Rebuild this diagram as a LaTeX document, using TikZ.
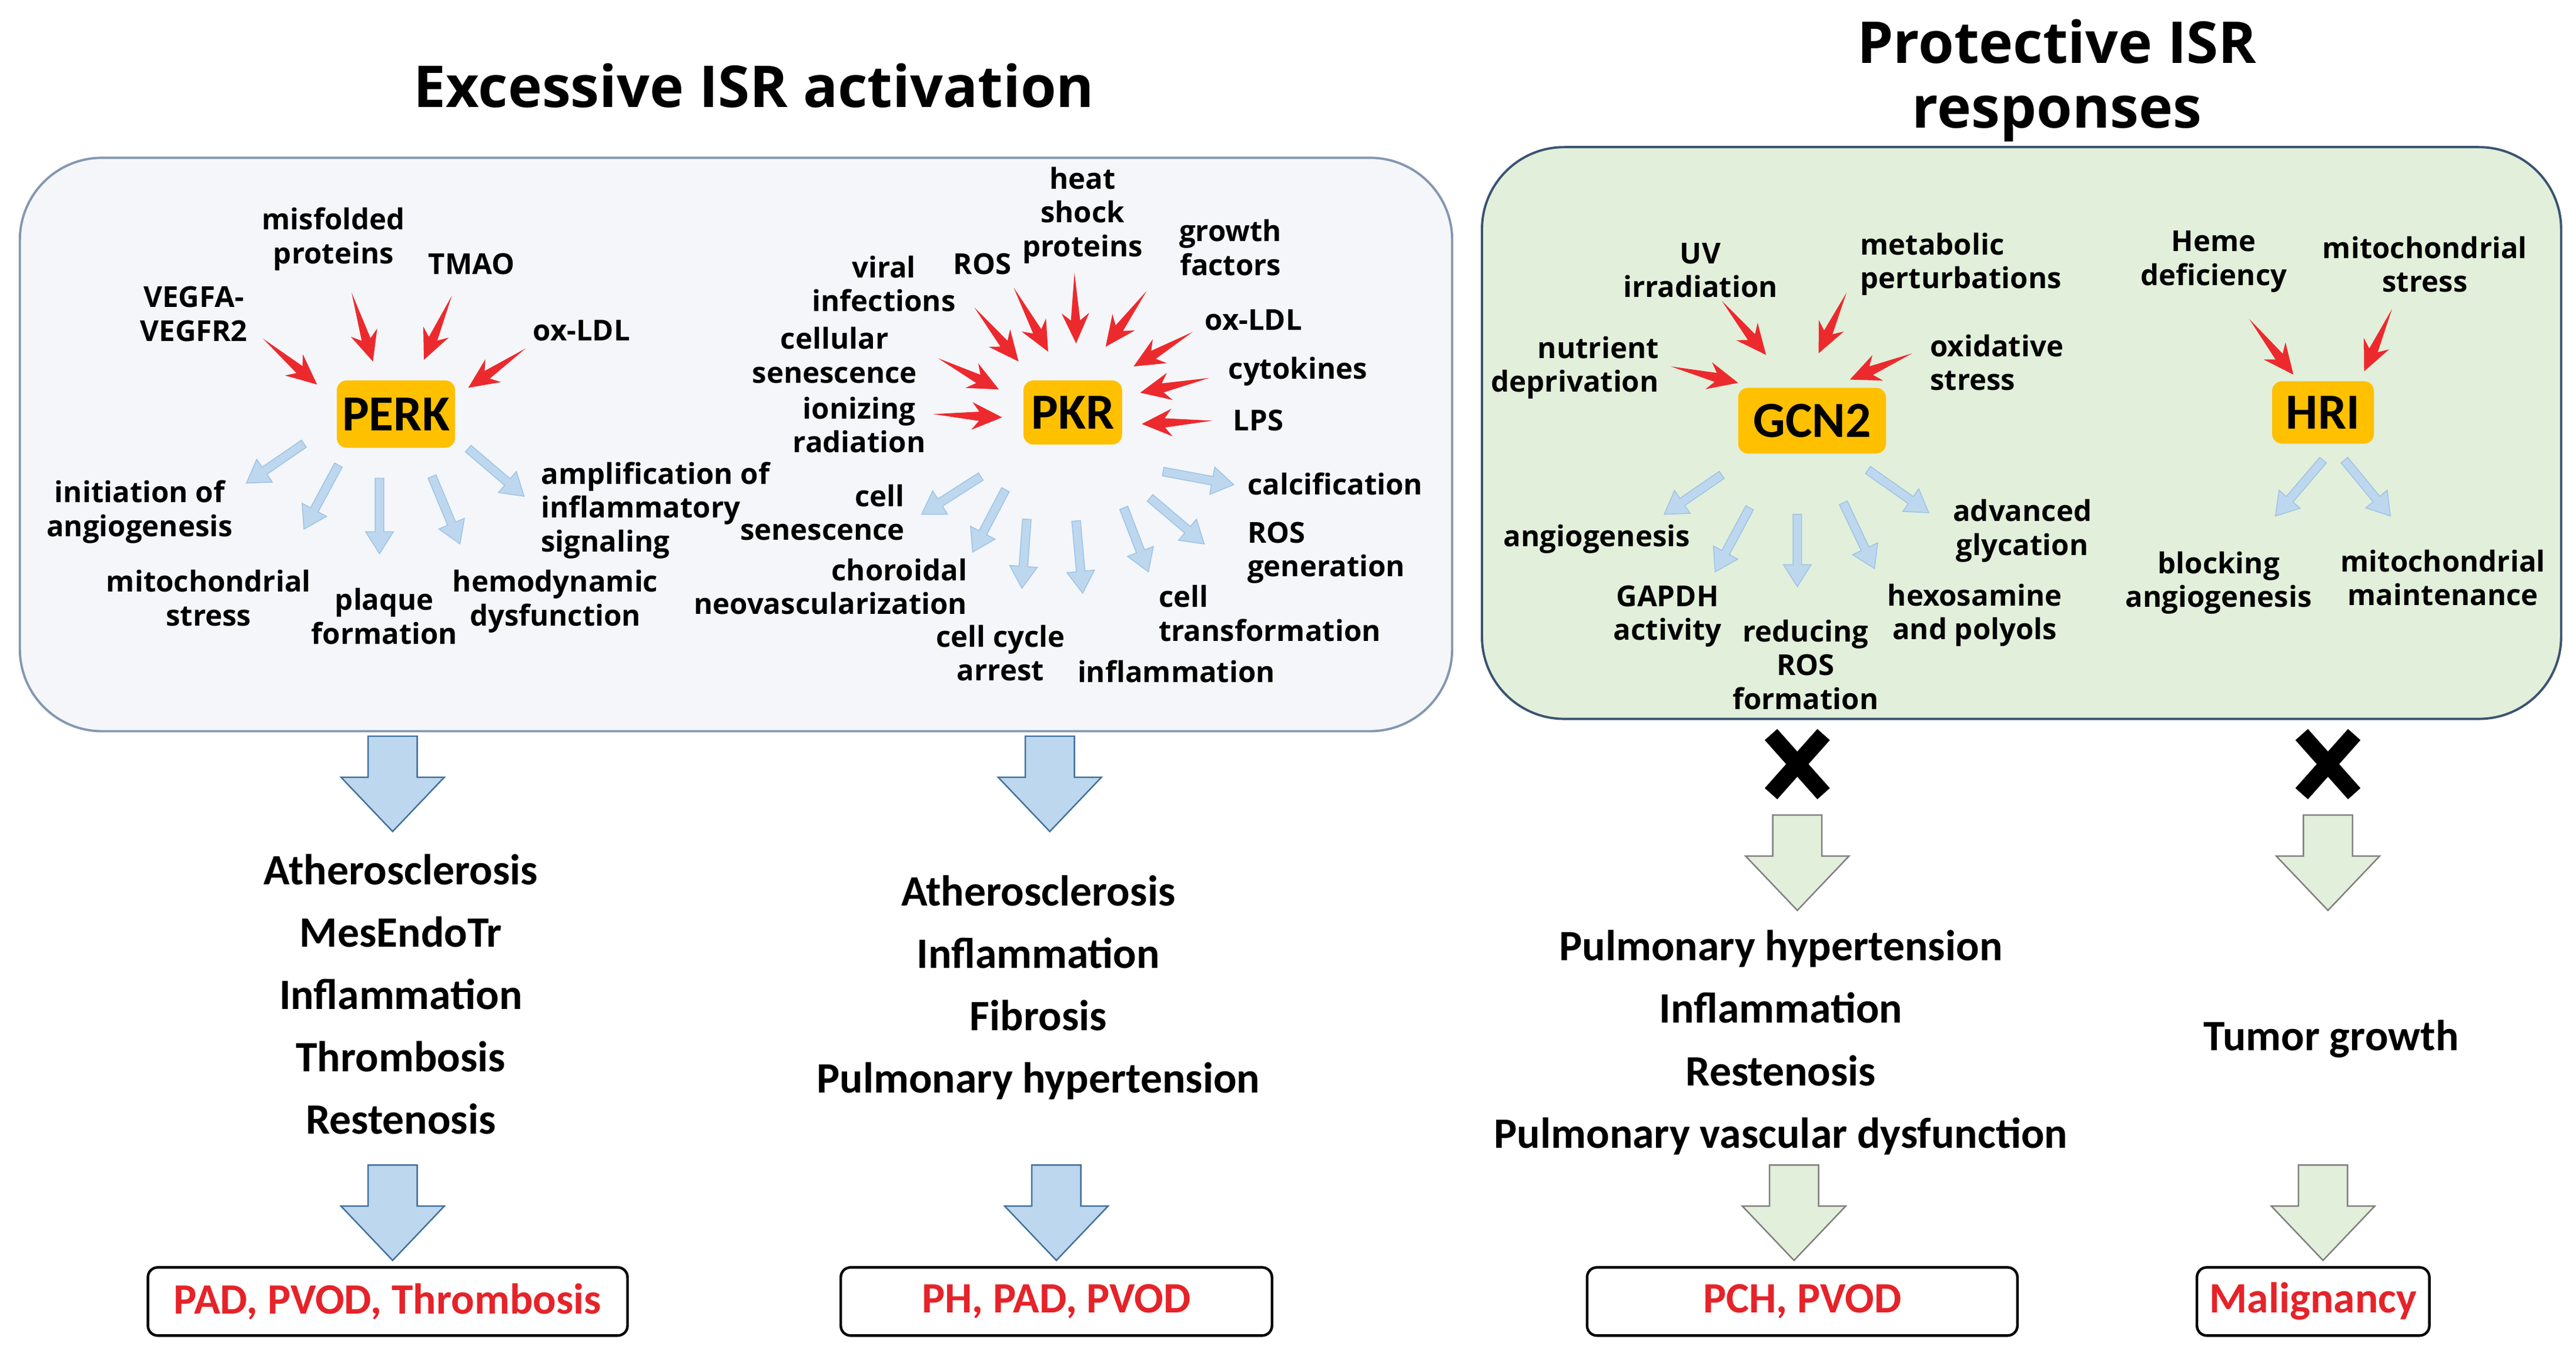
\documentclass[tikz,border=0pt]{standalone}
\usepackage{fontspec}
\setmainfont{Open Sans}
\newfontfamily\calib{Carlito}
\usetikzlibrary{calc}

\definecolor{panelgray}{HTML}{F4F6F9}
\definecolor{grayedge}{HTML}{8497B0}
\definecolor{palegreen}{HTML}{E2EFDA}
\definecolor{greenedge}{HTML}{3A5372}
\definecolor{kinase}{HTML}{FFC000}
\definecolor{redarrow}{HTML}{EC2A2E}
\definecolor{lightblue}{HTML}{BDD7EE}
\definecolor{lightedge}{HTML}{9DC3E6}
\definecolor{blueedge}{HTML}{41719C}
\definecolor{grayline}{HTML}{7F7F7F}
\definecolor{redtext}{HTML}{E52329}

% block arrow: style, from, to, shaft half width, head half width, head length
\newcommand{\arrowbody}[6]{%
  \coordinate (ab-s) at #2;
  \coordinate (ab-e) at #3;
  \coordinate (ab-b) at ($(ab-e)!#6!(ab-s)$);
  \path[#1] ($(ab-s)!#4!90:(ab-e)$) -- ($(ab-b)!#4!-90:(ab-s)$) -- ($(ab-b)!#5!-90:(ab-s)$)
    -- (ab-e) -- ($(ab-b)!#5!90:(ab-s)$) -- ($(ab-b)!#4!90:(ab-s)$) -- ($(ab-s)!#4!-90:(ab-e)$) -- cycle;}
% red tapered arrow into a kinase
\newcommand{\inarr}[2]{%
  \coordinate (ia-s) at #1;
  \coordinate (ia-e) at #2;
  \coordinate (ia-n) at ($(ia-e)!8pt!(ia-s)$);
  \coordinate (ia-b) at ($(ia-e)!10.5pt!(ia-s)$);
  \fill[inarrow] (ia-s) -- ($(ia-n)!1.6pt!-90:(ia-s)$) -- ($(ia-b)!4.8pt!-90:(ia-s)$) -- (ia-e)
    -- ($(ia-b)!4.8pt!90:(ia-s)$) -- ($(ia-n)!1.6pt!90:(ia-s)$) -- cycle;}
% light blue arrow out of a kinase
\newcommand{\outarr}[2]{\arrowbody{outarrow}{#1}{#2}{1.5pt}{4.8pt}{7.6pt}}
% big arrow down
\newcommand{\bigarr}[2]{\arrowbody{#1}{(#2)}{($(#2)+(0,-58)$)}{8.5pt}{17.9pt}{18.8pt}}

\tikzset{
  title/.style={font=\bfseries\fontsize{20}{22.5}\selectfont, align=center, inner sep=0pt},
  lbl/.style={font=\bfseries\fontsize{10}{11.7}\selectfont, align=center, inner sep=0pt},
  kinase/.style={fill=kinase, rounded corners=0.12cm, inner sep=0pt,
    font=\calib\bfseries\fontsize{17.5}{17.5}\selectfont},
  panel/.style={rounded corners=1cm, line width=0.8pt, inner sep=0pt, outer sep=0pt},
  disease/.style={font=\calib\bfseries\fontsize{15}{21.6}\selectfont, align=center, inner sep=0pt},
  outcome/.style={draw=black, line width=0.9pt, rounded corners=0.12cm, text=redtext, inner sep=0pt,
    minimum height=0.83cm, font=\calib\bfseries\fontsize{15}{18}\selectfont},
  inarrow/.style={fill=redarrow},
  outarrow/.style={fill=lightblue, draw=lightedge, line width=0.3pt},
  bigblue/.style={fill=lightblue, draw=blueedge, line width=0.5pt},
  biggreen/.style={fill=palegreen, draw=grayline, line width=0.5pt},
  cross/.style={line width=5.8pt, black}
}

\begin{document}
\begin{tikzpicture}[x=0.02cm, y=0.02cm]
\useasboundingbox (0,0) rectangle (1568,823);
\fill[white] (0,0) rectangle (1568,823);

% Panels and titles
\node[panel, fill=panelgray, draw=grayedge, minimum width=17.44cm, minimum height=6.98cm] (exc) at (448,552.5) {};
\node[panel, fill=palegreen, draw=greenedge, minimum width=13.14cm, minimum height=6.96cm] (prot) at (1230.5,559.5) {};
\node[title] (texc) at (459,771) {Excessive ISR activation};
\node[title] (tprot) at (1252,774) {Protective ISR\\responses};

% Kinases
\node[kinase, minimum width=1.44cm, minimum height=0.82cm] (perk) at (241,571) {PERK};
\node[kinase, minimum width=1.2cm, minimum height=0.78cm] (pkr) at (653,572) {PKR};
\node[kinase, minimum width=1.8cm, minimum height=0.8cm] (gcn) at (1103,567) {GCN2};
\node[kinase, minimum width=1.24cm, minimum height=0.76cm] (hri) at (1414,572) {HRI};

% PERK branch
\node[lbl] (vegf) at (118,632) {VEGFA-\\VEGFR2};
\node[lbl] (misf) at (203,677.5) {misfolded\\proteins};
\node[lbl] (tmao) at (287,662.5) {TMAO};
\node[lbl] (oxa) at (354,622) {ox-LDL};
\node[lbl] (angi) at (85,511.5) {initiation of\\angiogenesis};
\node[lbl] (mita) at (127,459) {mitochondrial\\stress};
\node[lbl] (plaq) at (234,448) {plaque\\formation};
\node[lbl] (hemo) at (338,457) {hemodynamic\\dysfunction};
\node[lbl, anchor=west, align=left] (ampl) at (329,512.4) {amplification of\\inflammatory\\signaling};
\inarr{($(perk)+(-81,46)$)}{($(perk)+(-48,18)$)}
\inarr{($(perk)+(-27,74)$)}{($(perk)+(-14,32)$)}
\inarr{($(perk)+(34,72)$)}{($(perk)+(17,33)$)}
\inarr{($(perk)+(79,40)$)}{($(perk)+(44,16)$)}
\outarr{($(perk)+(-56,-18)$)}{($(perk)+(-91,-42)$)}
\outarr{($(perk)+(-35,-31)$)}{($(perk)+(-56,-70)$)}
\outarr{($(perk)+(-10,-39)$)}{($(perk)+(-10,-85)$)}
\outarr{($(perk)+(22,-38)$)}{($(perk)+(39,-79)$)}
\outarr{($(perk)+(44,-21)$)}{($(perk)+(78,-50)$)}

% PKR branch
\node[lbl] (vira) at (538,650.4) {viral\\infections};
\node[lbl] (rosa) at (598,662.5) {ROS};
\node[lbl] (heat) at (659,692.1) {heat\\shock\\proteins};
\node[lbl] (grow) at (749,672.4) {growth\\factors};
\node[lbl] (oxb) at (763,628.3) {ox-LDL};
\node[lbl] (cyto) at (790,596.8) {cytokines};
\node[lbl] (lps) at (766,567.2) {LPS};
\node[lbl] (cels) at (508,606.8) {cellular\\senescence};
\node[lbl] (ioni) at (523,564.5) {ionizing\\radiation};
\node[lbl, anchor=east, align=right] (csen) at (551,511.1) {cell\\senescence};
\node[lbl, anchor=east, align=right] (chor) at (589,466) {choroidal\\neovascularization};
\node[lbl] (ccyc) at (609,425.7) {cell cycle\\arrest};
\node[lbl] (infl) at (716,414.4) {inflammation};
\node[lbl, anchor=west, align=left] (ctra) at (705,449.7) {cell\\transformation};
\node[lbl, anchor=west, align=left] (rosg) at (759,486.7) {ROS\\generation};
\node[lbl, anchor=west, align=left] (calf) at (759,528.4) {calcification};
\inarr{($(pkr)+(-60,64)$)}{($(pkr)+(-33,31)$)}
\inarr{($(pkr)+(-36,76)$)}{($(pkr)+(-15,37)$)}
\inarr{($(pkr)+(1,85)$)}{($(pkr)+(2,42)$)}
\inarr{($(pkr)+(45,74)$)}{($(pkr)+(20,40)$)}
\inarr{($(pkr)+(73,49)$)}{($(pkr)+(37,28)$)}
\inarr{($(pkr)+(83,21)$)}{($(pkr)+(41,12)$)}
\inarr{($(pkr)+(85,-5)$)}{($(pkr)+(42,-7)$)}
\inarr{($(pkr)+(-82,33)$)}{($(pkr)+(-45,14)$)}
\inarr{($(pkr)+(-85,-1)$)}{($(pkr)+(-43,-3)$)}
\outarr{($(pkr)+(-56,-39)$)}{($(pkr)+(-92,-62)$)}
\outarr{($(pkr)+(-41,-47)$)}{($(pkr)+(-61,-85)$)}
\outarr{($(pkr)+(-28,-65)$)}{($(pkr)+(-31,-107)$)}
\outarr{($(pkr)+(2,-66)$)}{($(pkr)+(6,-110)$)}
\outarr{($(pkr)+(31,-58)$)}{($(pkr)+(46,-97)$)}
\outarr{($(pkr)+(47,-52)$)}{($(pkr)+(80,-80)$)}
\outarr{($(pkr)+(55,-36)$)}{($(pkr)+(98,-44)$)}

% GCN2 branch
\node[lbl] (uvir) at (1035,658.6) {UV\\irradiation};
\node[lbl, anchor=west, align=left] (meta) at (1132,662.2) {metabolic\\perturbations};
\node[lbl, anchor=east, align=right] (nutr) at (1010,599.3) {nutrient\\deprivation};
\node[lbl, anchor=west, align=left] (oxis) at (1174.5,602.3) {oxidative\\stress};
\node[lbl] (angg) at (972,495.1) {angiogenesis};
\node[lbl] (gapd) at (1015,448) {GAPDH\\activity};
\node[lbl] (redu) at (1099,418.6) {reducing\\ROS\\formation};
\node[lbl] (hexo) at (1202,448.7) {hexosamine\\and polyols};
\node[lbl] (adva) at (1231,499.9) {advanced\\glycation};
\inarr{($(gcn)+(-55,73)$)}{($(gcn)+(-28,40)$)}
\inarr{($(gcn)+(21,78)$)}{($(gcn)+(4,41)$)}
\inarr{($(gcn)+(-86,33)$)}{($(gcn)+(-45,23)$)}
\inarr{($(gcn)+(61,41)$)}{($(gcn)+(23,25)$)}
\outarr{($(gcn)+(-55,-33)$)}{($(gcn)+(-90,-57)$)}
\outarr{($(gcn)+(-38,-53)$)}{($(gcn)+(-59,-92)$)}
\outarr{($(gcn)+(-9,-57)$)}{($(gcn)+(-9,-101)$)}
\outarr{($(gcn)+(19,-50)$)}{($(gcn)+(38,-90)$)}
\outarr{($(gcn)+(34,-30)$)}{($(gcn)+(71,-56)$)}

% HRI branch
\node[lbl] (heme) at (1347.5,663.8) {Heme\\deficiency};
\node[lbl] (mitb) at (1476,662.2) {mitochondrial\\stress};
\node[lbl] (bloc) at (1350.5,468.4) {blocking\\angiogenesis};
\node[lbl] (mitm) at (1487,471.5) {mitochondrial\\maintenance};
\inarr{($(hri)+(-45,57)$)}{($(hri)+(-18,23)$)}
\inarr{($(hri)+(42,63)$)}{($(hri)+(25,25)$)}
\outarr{($(hri)+(0,-29)$)}{($(hri)+(-29,-63)$)}
\outarr{($(hri)+(13,-29)$)}{($(hri)+(41,-63)$)}

% Consequences
\node[disease] (lsa) at (244,218) {Atherosclerosis\\MesEndoTr\\Inflammation\\Thrombosis\\Restenosis};
\node[disease] (lsb) at (632,222) {Atherosclerosis\\Inflammation\\Fibrosis\\Pulmonary hypertension};
\node[disease] (lsc) at (1084,188.6) {Pulmonary hypertension\\Inflammation\\Restenosis\\Pulmonary vascular dysfunction};
\node[disease] (lsd) at (1419,190.9) {Tumor growth};

\node[outcome, minimum width=5.84cm] (oa) at (236,31) {PAD, PVOD, Thrombosis};
\node[outcome, minimum width=5.25cm] (ob) at (643,31) {PH, PAD, PVOD};
\node[outcome, minimum width=5.24cm] (oc) at (1097,31) {PCH, PVOD};
\node[outcome, minimum width=2.83cm] (od) at (1408,31) {Malignancy};

% Big arrows
\coordinate (da) at (239,375);
\coordinate (db) at (639,375);
\coordinate (dc) at (239,114);
\coordinate (dd) at (643,114);
\coordinate (ga) at (1094,327);
\coordinate (gb) at (1417,327);
\coordinate (gc) at (1092,114);
\coordinate (gd) at (1414,114);
\bigarr{bigblue}{da}
\bigarr{bigblue}{db}
\bigarr{bigblue}{dc}
\bigarr{bigblue}{dd}
\bigarr{biggreen}{ga}
\bigarr{biggreen}{gb}
\bigarr{biggreen}{gc}
\bigarr{biggreen}{gd}

% Blocks
\coordinate (xa) at (1094,358);
\coordinate (xb) at (1417,358);
\draw[cross] ($(xa)+(-16,-18)$) -- ($(xa)+(16,18)$) ($(xa)+(-16,18)$) -- ($(xa)+(16,-18)$);
\draw[cross] ($(xb)+(-16,-18)$) -- ($(xb)+(16,18)$) ($(xb)+(-16,18)$) -- ($(xb)+(16,-18)$);
\end{tikzpicture}
\end{document}
